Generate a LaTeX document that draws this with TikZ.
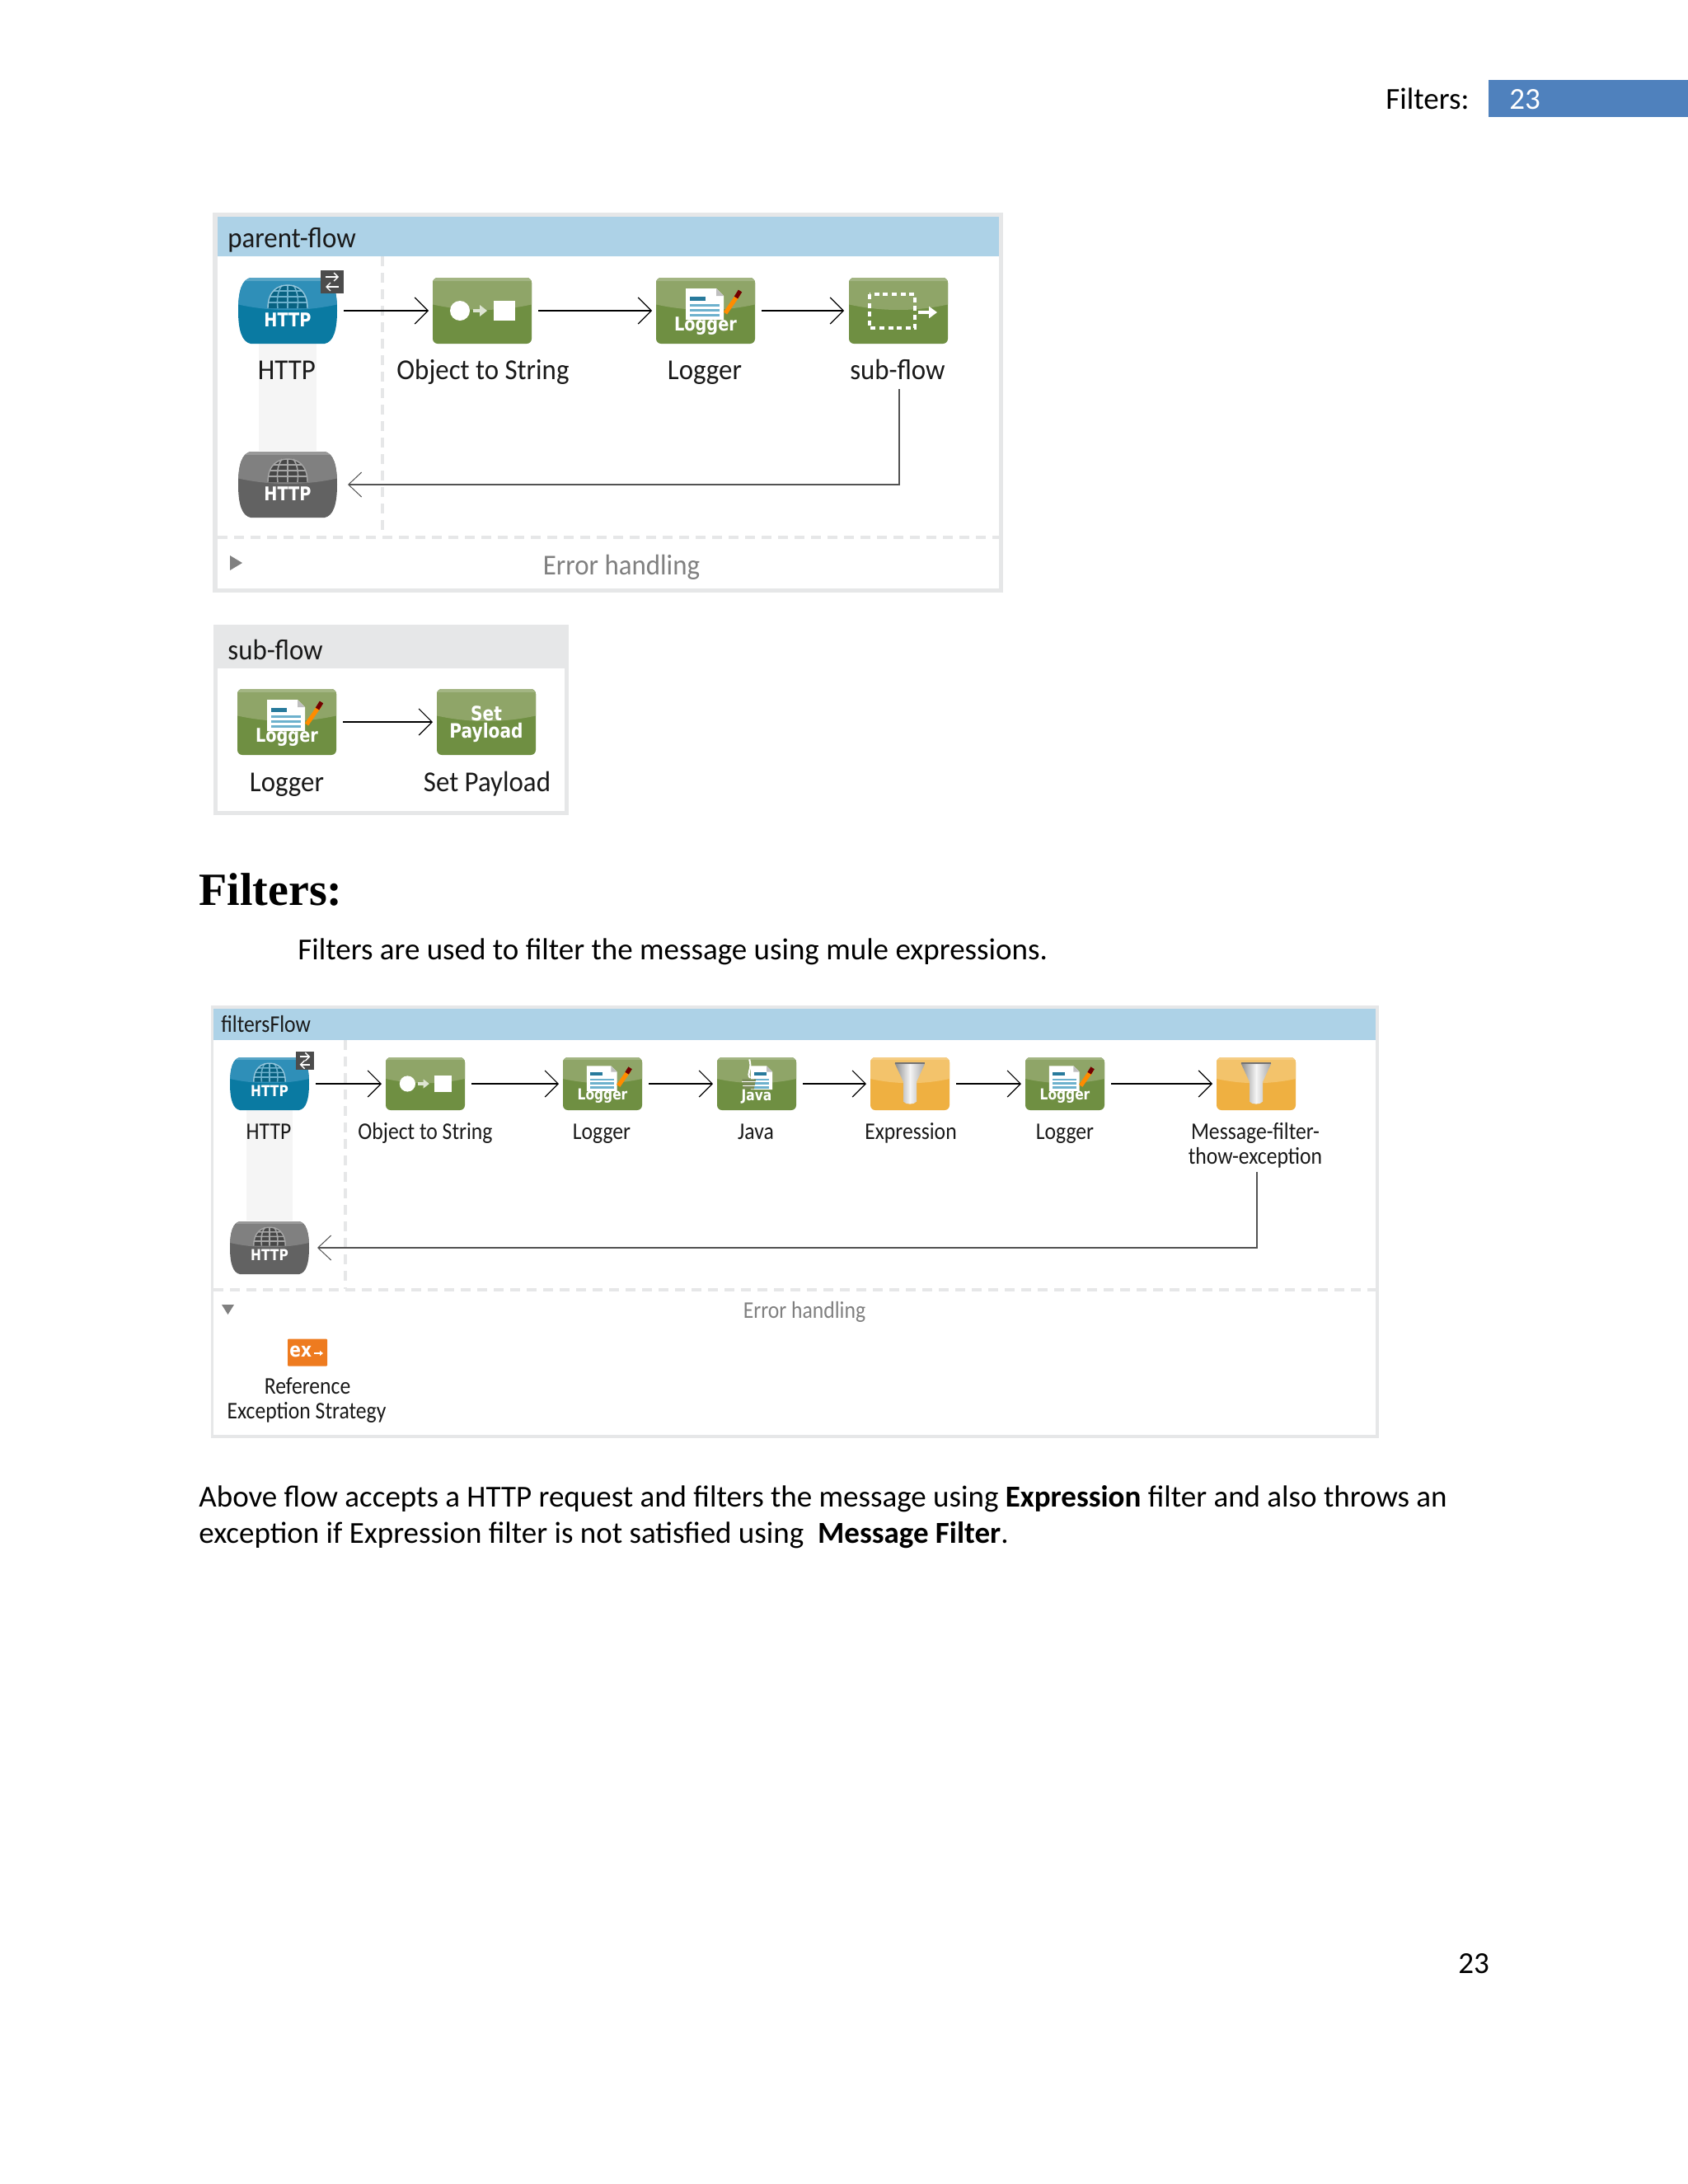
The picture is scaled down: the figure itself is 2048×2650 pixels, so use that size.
\documentclass[tikz,border=0pt]{standalone}
\usepackage{fontspec}
\setmainfont{Carlito}
\newfontfamily\headf{Liberation Serif}
\newfontfamily\lbl[FakeStretch=0.94]{Carlito}
\newfontfamily\lbls[FakeStretch=0.885]{Carlito}
\newfontfamily\iconf[FakeStretch=0.84]{DejaVu Sans}
\usetikzlibrary{arrows.meta}
\definecolor{frameG}{HTML}{E6E7E8}
\definecolor{hdrB}{HTML}{ADD2E7}
\definecolor{barB}{HTML}{4F81BD}
\definecolor{gL}{HTML}{8FA568}
\definecolor{gD}{HTML}{6F8F42}
\definecolor{bL}{HTML}{2F8FB8}
\definecolor{bD}{HTML}{0A7AA2}
\definecolor{kL}{HTML}{808080}
\definecolor{kD}{HTML}{626262}
\definecolor{oL}{HTML}{F3C36B}
\definecolor{oD}{HTML}{EFB041}
\tikzset{
  x=0.5pt,y=-0.5pt,
  flow/.style={draw=black,line width=1pt,-{Straight Barb[length=8pt,width=16pt,line width=.6pt]},shorten >=2.5pt,shorten <=4pt},
  ret/.style={draw=black!68,line width=1pt,-{Straight Barb[length=8pt,width=15pt,line width=.5pt,black!68]},shorten >=6.5pt},
  dashG/.style={draw=frameG,line width=1.6pt,dash pattern=on 6pt off 4pt},
  lab/.style={font=\lbl\fontsize{17.5}{21}\selectfont,inner sep=0pt,text=black!90,anchor=base},
  labS/.style={font=\lbls\fontsize{14.5}{15}\selectfont,inner sep=0pt,text=black!90,anchor=base},
  errt/.style={text=black!50},
  body/.style={font=\fontsize{18.5}{22}\selectfont,inner sep=0pt,anchor=base west,text=black},
  itxt/.style={font=\iconf\bfseries\fontsize{#1}{#1}\selectfont,text=white,inner sep=0pt,transform shape},
}
\newcommand\ico[4]{%
  \node[minimum width=#2*60pt,minimum height=#2*40pt,inner sep=0pt,outer sep=0pt] (#1) at (#3) {};
  \begin{scope}[shift={(#1.center)},scale=#2]#4\end{scope}}
\newcommand\rrgloss[2]{%
  \begin{scope}
  \clip[rounded corners=3pt] (-60,-40) rectangle (60,40);
  \fill[#2] (-70,-50) rectangle (70,50);
  \fill[#1] (-70,-50) -- (70,-50) -- (70,-10) .. controls (25,2) and (-25,2) .. (-70,-10) -- cycle;
  \fill[white,opacity=.18] (-70,-40) rectangle (70,-36);
  \end{scope}}
\newcommand\sqgloss[2]{%
  \begin{scope}
  \clip (-45,-40) -- (45,-40) .. controls (55,-38) and (60,-25) .. (60,0) .. controls (60,25) and (55,38) .. (45,40) -- (-45,40) .. controls (-55,38) and (-60,25) .. (-60,0) .. controls (-60,-25) and (-55,-38) .. (-45,-40) -- cycle;
  \fill[#2] (-70,-50) rectangle (70,50);
  \fill[#1] (-70,-50) -- (70,-50) -- (70,-10) .. controls (25,2) and (-25,2) .. (-70,-10) -- cycle;
  \fill[white,opacity=.2] (-70,-40) rectangle (70,-36);
  \end{scope}}
\newcommand\globe[3]{%
  \fill[#1] (-24,-3) .. controls (-24,-24) and (-12,-31) .. (0,-31) .. controls (12,-31) and (24,-24) .. (24,-3) -- cycle;
  \draw[#2,line width=.8pt] (-17,-24) -- (17,-24) (-22,-17) -- (22,-17) (-24,-10) -- (24,-10) (0,-31) -- (0,-3)
     (-7,-31) .. controls (-13,-22) and (-13,-12) .. (-12,-3) (7,-31) .. controls (13,-22) and (13,-12) .. (12,-3);
  \draw[#3,line width=.7pt] (-24,-3) .. controls (-24,-24) and (-12,-31) .. (0,-31) .. controls (12,-31) and (24,-24) .. (24,-3);
  \node[itxt=11.5] at (0,11) {HTTP};}
\newcommand\ihttp{\sqgloss{bL}{bD}\globe{bD!80!black}{bL!70!white}{bL!50!white}}
\newcommand\ihttpg{\sqgloss{kL}{kD}\globe{black!72}{black!35}{black!35}}
\newcommand\ibadge{\fill[black!70] (-14,-14) rectangle (14,14);
  \draw[white,line width=1pt,-{Straight Barb[length=2.5pt,width=5pt,line width=.7pt]}] (-8,-6) -- (8,-6);
  \draw[white,line width=1pt,-{Straight Barb[length=2.5pt,width=5pt,line width=.7pt]}] (8,6) -- (-8,6);}
\newcommand\iobj{\rrgloss{gL}{gD}
  \fill[white] (-27,0) ellipse [x radius=12,y radius=12];
  \fill[white!70!gL] (-11,-2) rectangle (-3,2); \fill[white!70!gL] (-3,-7) -- (6,0) -- (-3,7) -- cycle;
  \fill[white] (14,-12) rectangle (40,12);}
\newcommand\doc[4]{% x1 y1 x2 y2
  \fill[white] (#1,#2) -- (#3-9,#2) -- (#3,#2+9) -- (#3,#4) -- (#1,#4) -- cycle;
  \fill[black!25] (#3-9,#2) -- (#3-9,#2+9) -- (#3,#2+9) -- cycle;
  \fill[bL!85!black] (#1+5,#2+10) rectangle (#1+24,#2+15);
  \foreach \q in {19,25,31}{\fill[bL!70!white] (#1+5,#2+\q) rectangle (#3-5,#2+\q+3);}}
\newcommand\ilogger{\rrgloss{gL}{gD}
  \doc{-24}{-27}{22}{11}
  \draw[orange!90!yellow,line width=2.6pt] (24,3) -- (40,-20);
  \draw[red!45!black,line width=2.6pt] (37,-16) -- (42,-24);
  \node[itxt=11.5] at (0,19) {Logger};}
\newcommand\isub{\rrgloss{gL}{gD}
  \draw[white,line width=1.8pt,dash pattern=on 3pt off 2.3pt] (-35,-20) rectangle (20,21);
  \draw[white,line width=1.6pt,-{Triangle[length=5pt,width=7pt]}] (24,2) -- (47,2);}
\newcommand\ipay{\rrgloss{gL}{gD}
  \node[itxt=12] at (0,-10) {Set};
  \node[itxt=12] at (0,13) {Payload};}
\newcommand\ijava{\rrgloss{gL}{gD}
  \doc{-9}{-27}{24}{9}
  \fill[black!15!gL] (-22,-7) -- (-1,-7) -- (-4,8) -- (-19,8) -- cycle;
  \draw[white,line width=.8pt] (-22,-3) -- (-1,-3) (-21,3) -- (-3,3);
  \draw[white,line width=1pt] (-10,-9) .. controls (-16,-16) and (-6,-22) .. (-11,-37);
  \node[itxt=11.5] at (0,19) {Java};}
\newcommand\ifunnel{\rrgloss{oL}{oD}
  \shade[left color=black!45,right color=black!35,middle color=black!4] (-23,-31) -- (23,-31) -- (10,-3) -- (10,27) .. controls (6,32) and (-6,32) .. (-10,27) -- (-10,-3) -- cycle;
  \draw[black!55,line width=.8pt] (-23,-31) -- (23,-31);}
\begin{document}
\begin{tikzpicture}
\useasboundingbox (0,0) rectangle (2048,2650);
\fill[white] (0,0) rectangle (2048,2650);
% page header
\fill[barB] (1806,97) rectangle (2048,142);
\node[body] (hf) at (1681,132) {Filters:};
\node[body,anchor=base,text=white] (hn) at (1850,132) {23};
% panel 1
\fill[frameG] (258,258) rectangle (1217,719);
\fill[white] (264,263) rectangle (1212,714);
\fill[hdrB] (264,263) rectangle (1212,311);
\node[lab,anchor=base west] (t1) at (276,300) {parent-flow};
\fill[black!4] (314,417) rectangle (384,547);
\draw[dashG] (464,311) -- (464,648);
\draw[dashG] (264,652) -- (1212,652);
\ico{a1}{1}{349,377}{\ihttp}
\ico{ab}{1}{403,342}{\ibadge}
\ico{a2}{1}{585,377}{\iobj}
\ico{a3}{1}{856,377}{\ilogger}
\ico{a4}{1}{1090,377}{\isub}
\ico{a5}{1}{349,588}{\ihttpg}
\node[lab] (la1) at (348,460) {HTTP};
\node[lab] (la2) at (586,460) {Object to String};
\node[lab] (la3) at (855,460) {Logger};
\node[lab] (la4) at (1089,460) {sub-flow};
\coordinate (r1) at (1091,472);
\draw[flow] (a1) -- (a2);
\draw[flow] (a2) -- (a3);
\draw[flow,shorten >=3pt] (a3) -- (a4);
\draw[ret] (r1) |- (a5);
\fill[black!50] (279,674) -- (294,683) -- (279,692) -- cycle;
\node[lab,errt] (e1) at (754,697) {Error handling};
% panel 2
\fill[frameG] (259,758) rectangle (690,989);
\fill[white] (264,811) rectangle (685,984);
\node[lab,anchor=base west] (t2) at (276,800) {sub-flow};
\ico{b1}{1}{348,876}{\ilogger}
\ico{b2}{1}{590,876}{\ipay}
\node[lab] (lb1) at (348,960) {Logger};
\node[lab] (lb2) at (591,960) {Set Payload};
\draw[flow] (b1) -- (b2);
% heading
\node[body,font=\headf\bfseries\fontsize{28}{32}\selectfont] (h) at (241,1098) {Filters:};
\node[body] (p1) at (361,1164) {Filters are used to filter the message using mule expressions.};
% panel 3
\fill[frameG] (256,1220) rectangle (1673,1745);
\fill[white] (259,1224) rectangle (1669,1741);
\fill[hdrB] (259,1224) rectangle (1669,1262);
\node[labS,anchor=base west] (t3) at (268,1252) {filtersFlow};
\fill[black!4] (299,1347) rectangle (355,1481);
\draw[dashG] (419,1262) -- (419,1564);
\draw[dashG] (259,1565) -- (1669,1565);
\ico{c1}{.8}{327,1315}{\ihttp}
\ico{cb}{.8}{370,1287}{\ibadge}
\ico{c2}{.8}{516,1315}{\iobj}
\ico{c3}{.8}{731,1315}{\ilogger}
\ico{c4}{.8}{918,1315}{\ijava}
\ico{c5}{.8}{1104,1315}{\ifunnel}
\ico{c6}{.8}{1292,1315}{\ilogger}
\ico{c7}{.8}{1524,1315}{\ifunnel}
\ico{c8}{.8}{327,1514}{\ihttpg}
\node[labS] (lc1) at (326,1382) {HTTP};
\node[labS] (lc2) at (516,1382) {Object to String};
\node[labS] (lc3) at (730,1382) {Logger};
\node[labS] (lc4) at (917,1382) {Java};
\node[labS] (lc5) at (1105,1382) {Expression};
\node[labS] (lc6) at (1292,1382) {Logger};
\node[labS] (lc7) at (1523,1382) {Message-filter-};
\node[labS] (lc7b) at (1523,1412) {thow-exception};
\coordinate (r2) at (1525,1422);
\draw[flow] (c1) -- (c2);
\draw[flow] (c2) -- (c3);
\draw[flow] (c3) -- (c4);
\draw[flow] (c4) -- (c5);
\draw[flow] (c5) -- (c6);
\draw[flow] (c6) -- (c7);
\draw[ret,shorten >=5pt] (r2) |- (c8);
\fill[black!50] (269,1583) -- (284,1583) -- (276.5,1595) -- cycle;
\node[labS,errt] (e3) at (976,1599) {Error handling};
\node[minimum width=24pt,minimum height=16.5pt,inner sep=0pt,fill={rgb,255:red,238;green,123;blue,31},rounded corners=.5pt] (ex) at (373,1641) {};
\node[itxt=12,anchor=west] (ext) at (351,1640) {ex};
\draw[white,line width=.8pt,-{Triangle[length=2pt,width=3pt]}] (381,1642) -- (392,1642);
\node[labS] (lx1) at (373,1691) {Reference};
\node[labS] (lx2) at (372,1721) {Exception Strategy};
% paragraph
\node[body] (p2) at (241,1828) {Above flow accepts a HTTP request and filters the message using \textbf{Expression} filter and also throws an};
\node[body] (p3) at (241,1872) {exception if Expression filter is not satisfied using\ \ \textbf{Message Filter}.};
\node[body,anchor=center] (pn) at (1788,2383) {23};
\end{tikzpicture}
\end{document}
